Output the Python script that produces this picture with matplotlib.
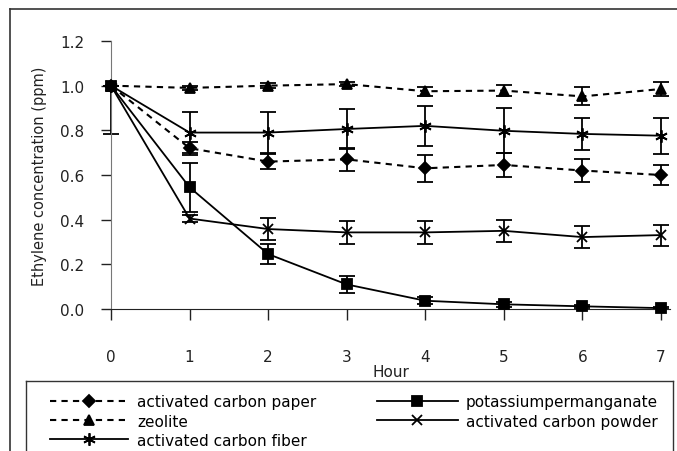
import matplotlib
matplotlib.use('Agg')
import matplotlib.pyplot as plt
from matplotlib.lines import Line2D
import numpy as np

plt.rcParams.update({'font.family': 'DejaVu Sans', 'font.size': 11})

W, H = 677, 452

hours = [0, 1, 2, 3, 4, 5, 6, 7]

paper = [1.0, 0.72, 0.66, 0.67, 0.63, 0.645, 0.62, 0.60]
paper_err = [0.0, 0.03, 0.035, 0.05, 0.06, 0.055, 0.05, 0.045]

zeolite = [1.0, 0.99, 1.0, 1.007, 0.975, 0.978, 0.952, 0.985]
zeolite_err = [0.0, 0.01, 0.01, 0.01, 0.02, 0.025, 0.04, 0.03]

permanganate = [1.0, 0.545, 0.246, 0.11, 0.037, 0.021, 0.012, 0.004]
permanganate_err = [0.0, 0.11, 0.045, 0.04, 0.015, 0.01, 0.008, 0.005]

powder = [1.0, 0.405, 0.358, 0.343, 0.343, 0.35, 0.322, 0.331]
powder_err = [0.0, 0.015, 0.05, 0.05, 0.05, 0.05, 0.05, 0.047]

fiber = [1.0, 0.79, 0.79, 0.806, 0.82, 0.798, 0.784, 0.776]
fiber_err_lo = [0.215, 0.09, 0.09, 0.088, 0.09, 0.1, 0.07, 0.08]
fiber_err_hi = [0.0, 0.09, 0.09, 0.088, 0.09, 0.1, 0.07, 0.08]

yticks = [0.0, 0.2, 0.4, 0.6, 0.8, 1.0, 1.2]


def fx(px):
    return px / W


def fy(py):
    return 1 - py / H


fig = plt.figure(figsize=(W / 100, H / 100), dpi=100)

# plot area in pixels: left 111, right 670, top 42, bottom 310
ax = fig.add_axes([fx(111), fy(310), fx(670) - fx(111), fy(42) - fy(310)])

dash = (0, (3, 2.5))
series = [
    (paper, (paper_err, paper_err), 'D', 6.0, dash, 1.5, 'activated carbon paper'),
    (zeolite, (zeolite_err, zeolite_err), '^', 7.5, dash, 1.5, 'zeolite'),
    (fiber, (fiber_err_lo, fiber_err_hi), (6, 2, 0), 9, '-', 1.3, 'activated carbon fiber'),
    (permanganate, (permanganate_err, permanganate_err), 's', 7, '-', 1.3, 'potassiumpermanganate'),
    (powder, (powder_err, powder_err), 'x', 7.5, '-', 1.3, 'activated carbon powder'),
]

handles = []
for vals, err, mk, ms, ls, lw, lab in series:
    ax.errorbar(hours, vals, yerr=np.array(err), fmt='none', ecolor='black',
                elinewidth=1.3, capsize=5.5, capthick=1.3, clip_on=False, zorder=2)
    h, = ax.plot(hours, vals, color='black', linestyle=ls, linewidth=lw,
                 marker=mk, markersize=ms, markerfacecolor='black',
                 markeredgecolor='black', markeredgewidth=1.3,
                 clip_on=False, zorder=3, label=lab)
    handles.append(h)

ax.set_xlim(0, 7 * 559 / 550)
ax.set_ylim(0, 1.2)
ax.set_xticks(hours)
ax.set_yticks(yticks)
ax.set_yticklabels([f"{v:.1f}" for v in yticks])
ax.tick_params(axis='x', direction='out', length=8, width=1, pad=20.5, colors='#222222')
ax.tick_params(axis='y', direction='out', length=7, width=1, pad=12, colors='#222222')

ax.spines['top'].set_visible(False)
ax.spines['right'].set_visible(False)
ax.spines['left'].set_color('#777777')
ax.spines['bottom'].set_color('#222222')

ax.set_xlabel('Hour', fontsize=11, labelpad=0, color='#222222')
ax.set_ylabel('Ethylene concentration (ppm)', fontsize=10.5, color='#222222')
ax.yaxis.set_label_coords((47 - 111) / (670 - 111), 0.5)

# outer chart frame (cut at the image edge)
fig.add_artist(Line2D([fx(10), 1.0], [fy(10), fy(10)], color='#333333', lw=1.2))
fig.add_artist(Line2D([fx(10), fx(10)], [fy(10), 0.0], color='#333333', lw=1.2))

# legend frame
fig.add_artist(Line2D([fx(26), fx(673)], [fy(382), fy(382)], color='#333333', lw=1.0))
fig.add_artist(Line2D([fx(26), fx(26)], [fy(382), 0.0], color='#333333', lw=1.0))
fig.add_artist(Line2D([fx(673), fx(673)], [fy(382), 0.0], color='#333333', lw=1.0))

fig.legend(handles[:3], [h.get_label() for h in handles[:3]],
           loc='upper left', bbox_to_anchor=(fx(50), fy(395.5)),
           frameon=False, borderpad=0, borderaxespad=0, handlelength=5.1,
           handletextpad=0.6, labelspacing=0.27, fontsize=11)
fig.legend(handles[3:], [h.get_label() for h in handles[3:]],
           loc='upper left', bbox_to_anchor=(fx(377), fy(395.5)),
           frameon=False, borderpad=0, borderaxespad=0, handlelength=5.3,
           handletextpad=0.5, labelspacing=0.27, fontsize=11)

fig.savefig('out.png', dpi=100)
